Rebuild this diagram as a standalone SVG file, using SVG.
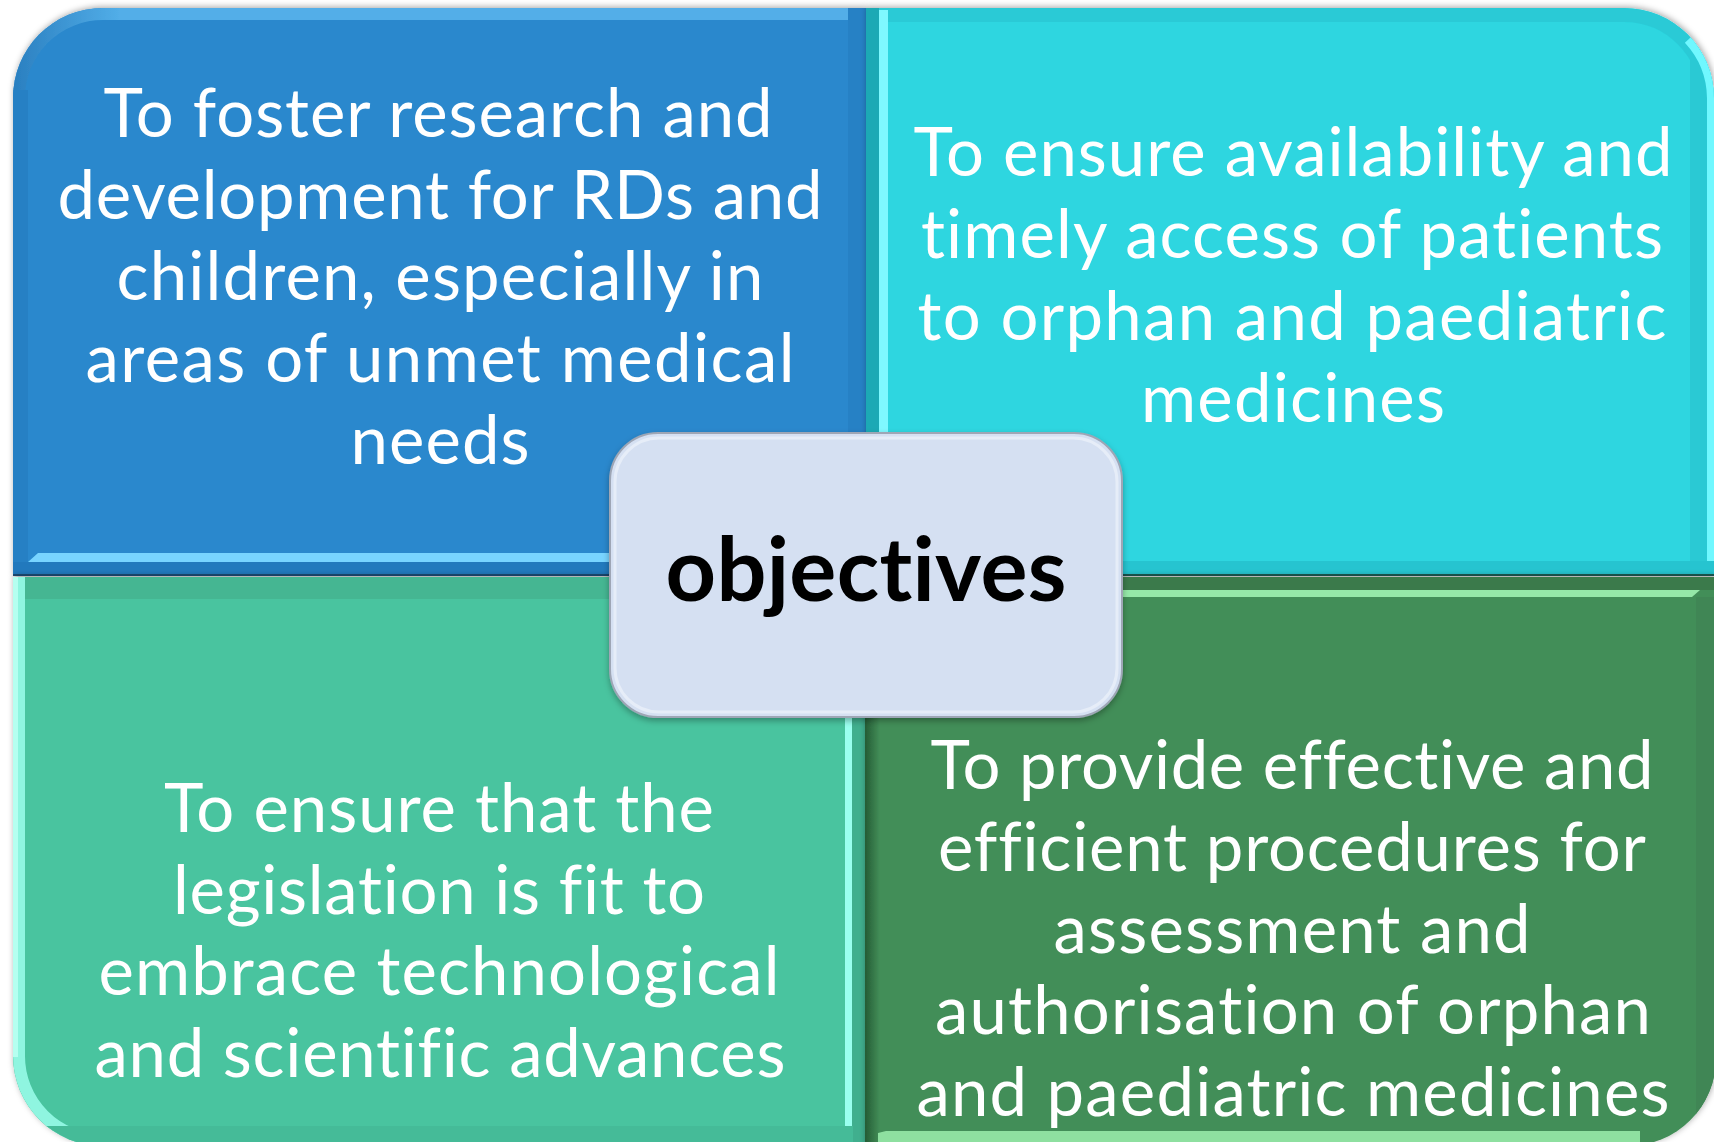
<svg xmlns="http://www.w3.org/2000/svg" width="1714" height="1142" viewBox="0 0 1714 1142">
  <style>
    .body { font-family: Lato, "Open Sans", "Liberation Sans", sans-serif; font-size: 67px; fill: #ffffff; text-anchor: middle; font-variant-ligatures: none; font-feature-settings: "liga" 0, "clig" 0; }
    .hub { font-family: Lato, "Open Sans", "Liberation Sans", sans-serif; font-size: 88px; font-weight: bold; fill: #000000; text-anchor: middle; font-variant-ligatures: none; font-feature-settings: "liga" 0, "clig" 0; }
  </style>
  <defs>
    <filter id="panelShadow" x="-5%" y="-5%" width="110%" height="110%">
      <feDropShadow dx="1" dy="-1" stdDeviation="3" flood-color="#000000" flood-opacity="0.35"/>
    </filter>
    <filter id="hubShadow" x="-10%" y="-10%" width="120%" height="130%">
      <feDropShadow dx="0" dy="3" stdDeviation="3" flood-color="#000000" flood-opacity="0.3"/>
    </filter>
    <linearGradient id="tlTop" x1="13" y1="0" x2="120" y2="0" gradientUnits="userSpaceOnUse">
      <stop offset="0" stop-color="#2a7fc0"/>
      <stop offset="1" stop-color="#52aee8"/>
    </linearGradient>
    <linearGradient id="brLeft" x1="865" y1="0" x2="880" y2="0" gradientUnits="userSpaceOnUse">
      <stop offset="0" stop-color="#245c35"/>
      <stop offset="1" stop-color="#438e58"/>
    </linearGradient>
    <clipPath id="clipTL"><path d="M13,576 V98 A90,90 0 0 1 103,8 H866 V576 Z"/></clipPath>
    <clipPath id="clipTR"><path d="M866,8 H1624 A90,90 0 0 1 1714,98 V576 H866 Z"/></clipPath>
    <clipPath id="clipBL"><path d="M13,577 H865 V1146 H103 A90,90 0 0 1 13,1056 Z"/></clipPath>
    <clipPath id="clipBR"><path d="M865,577 H1716 V1058 A88,88 0 0 1 1628,1146 H865 Z"/></clipPath>
  </defs>

  <!-- quadrant: research and development -->
  <g id="panel-research" filter="url(#panelShadow)">
    <path d="M13,576 V98 A90,90 0 0 1 103,8 H866 V576 Z" fill="#2988cd"/>
    <g clip-path="url(#clipTL)">
      <path d="M13,98 A90,90 0 0 1 103,8 H866" fill="none" stroke="url(#tlTop)" stroke-width="24"/>
      <rect x="13" y="90" width="15" height="486" fill="#2680c4"/>
      <rect x="848" y="8" width="18" height="568" fill="#2681c5"/>
      <polygon points="28,562 38,553 866,553 866,562" fill="#78d4ff"/>
      <rect x="13" y="562" width="853" height="13" fill="#2479bd"/>
      <rect x="13" y="574" width="853" height="3" fill="#1b4e77"/>
    </g>
    <text class="body" x="438" y="137" textLength="669">To foster research and</text>
    <text class="body" x="440" y="219" textLength="765">development for RDs and</text>
    <text class="body" x="440" y="300" textLength="647">children, especially in</text>
    <text class="body" x="440" y="382" textLength="709">areas of unmet medical</text>
    <text class="body" x="440" y="464" textLength="179">needs</text>
  </g>

  <!-- quadrant: availability and access -->
  <g id="panel-access" filter="url(#panelShadow)">
    <path d="M866,8 H1624 A90,90 0 0 1 1714,98 V576 H866 Z" fill="#2dd6e0"/>
    <g clip-path="url(#clipTR)">
      <path d="M866,15 H1624 A83,83 0 0 1 1707,98" fill="none" stroke="#2bcad6" stroke-width="14"/>
      <rect x="1690" y="60" width="17" height="516" fill="#2bc9d4"/>
      <path d="M1690,38 A90,90 0 0 1 1714,98 V576" fill="none" stroke="#6ff8ff" stroke-width="14"/>
      <rect x="866" y="8" width="13" height="568" fill="#1fa9b5"/>
      <rect x="879" y="10" width="9" height="552" fill="#7ff8ff"/>
      <rect x="866" y="561" width="848" height="14" fill="#28c4d0"/>
      <rect x="866" y="574" width="848" height="3" fill="#1d5b54"/>
    </g>
    <text class="body" x="1293" y="176" textLength="759">To ensure availability and</text>
    <text class="body" x="1292" y="258" textLength="742">timely access of patients</text>
    <text class="body" x="1292" y="340" textLength="749">to orphan and paediatric</text>
    <text class="body" x="1293" y="422" textLength="304">medicines</text>
  </g>

  <!-- quadrant: legislation fit for innovation -->
  <g id="panel-legislation" filter="url(#panelShadow)">
    <path d="M13,577 H865 V1146 H103 A90,90 0 0 1 13,1056 Z" fill="#48c49f"/>
    <g clip-path="url(#clipBL)">
      <rect x="13" y="577" width="852" height="22" fill="#44b692"/>
      <path d="M19,577 V1056 A84,84 0 0 0 103,1140" fill="none" stroke="#8ff5e0" stroke-width="12"/>
      <rect x="13" y="577" width="5" height="480" fill="#b5fff0"/>
      <rect x="852" y="577" width="13" height="569" fill="#3faf8e"/>
      <rect x="845" y="585" width="7" height="548" fill="#9affef"/>
      <rect x="13" y="1126" width="840" height="20" fill="#45bb98"/>
    </g>
    <text class="body" x="439" y="832" textLength="550">To ensure that the</text>
    <text class="body" x="439" y="914" textLength="532">legislation is fit to</text>
    <text class="body" x="439" y="995" textLength="681">embrace technological</text>
    <text class="body" x="440" y="1077" textLength="691">and scientific advances</text>
  </g>

  <!-- quadrant: assessment and authorisation -->
  <g id="panel-authorisation" filter="url(#panelShadow)">
    <path d="M865,577 H1716 V1058 A88,88 0 0 1 1628,1146 H865 Z" fill="#438e58"/>
    <g clip-path="url(#clipBR)">
      <rect x="865" y="577" width="851" height="13" fill="#3b7a4c"/>
      <polygon points="876,590 1700,590 1692,597 876,597" fill="#95e8a8"/>
      <rect x="1696" y="597" width="20" height="549" fill="#3f8654"/>
      <rect x="865" y="577" width="15" height="569" fill="url(#brLeft)"/>
      <polygon points="878,1133 886,1131 1640,1131 1640,1146 878,1146" fill="#8ee0a0"/>
    </g>
    <text class="body" x="1292" y="789" textLength="723">To provide effective and</text>
    <text class="body" x="1292" y="871" textLength="708">efficient procedures for</text>
    <text class="body" x="1292" y="953" textLength="477">assessment and</text>
    <text class="body" x="1293" y="1034" textLength="716">authorisation of orphan</text>
    <text class="body" x="1293" y="1116" textLength="753">and paediatric medicines</text>
  </g>

  <!-- central hub -->
  <g id="hub-objectives" filter="url(#hubShadow)">
    <rect x="610" y="433" width="512" height="284" rx="48" ry="48" fill="#d5e0f2" stroke="#9ea6b5" stroke-width="2"/>
    <rect x="615" y="438" width="502" height="274" rx="44" ry="44" fill="none" stroke="#e6edf8" stroke-width="3"/>
    <text class="hub" x="866" y="601" textLength="401">objectives</text>
  </g>

  <!-- no connectors in this layout -->
  <g id="connectors"/>
</svg>
